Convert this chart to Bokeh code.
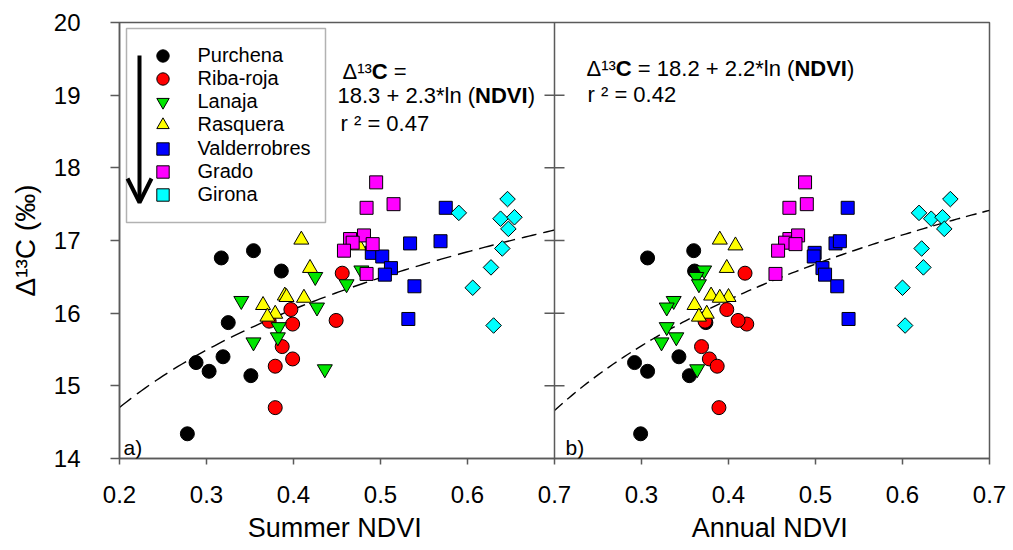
import numpy as np
from bokeh.plotting import figure
from bokeh.models import (Range1d, Span, Label, Legend, LegendItem, Arrow, OpenHead,
                          FixedTicker, CustomJSTickFormatter, BoxAnnotation)
from bokeh.embed import file_html
from bokeh.resources import INLINE

# ---------------- data ----------------
sites = ["Purchena", "Riba-roja", "Lanaja", "Rasquera", "Valderrobres", "Grado", "Girona"]

purchena_d13c = [16.76, 16.86, 16.58, 15.87, 15.40, 15.32, 15.20, 15.14, 14.34]
purchena_summer = [0.317, 0.354, 0.386, 0.325, 0.319, 0.288, 0.303, 0.351, 0.278]
purchena_annual = [0.307, 0.360, 0.361, 0.374, 0.343, 0.292, 0.307, 0.355, 0.299]

ribaroja_d13c = [16.55, 16.05, 15.85, 15.90, 15.89, 15.54, 15.37, 15.27, 14.70]
ribaroja_summer = [0.456, 0.397, 0.399, 0.449, 0.372, 0.387, 0.399, 0.379, 0.379]
ribaroja_annual = [0.419, 0.398, 0.421, 0.411, 0.373, 0.369, 0.378, 0.387, 0.389]

lanaja_d13c = [16.59, 16.50, 16.40, 16.17, 16.08, 15.81, 15.67, 15.60, 15.23]
lanaja_summer = [0.478, 0.425, 0.461, 0.340, 0.427, 0.383, 0.382, 0.354, 0.436]
lanaja_annual = [0.372, 0.363, 0.366, 0.337, 0.329, 0.329, 0.340, 0.323, 0.364]

rasquera_d13c = [17.01, 16.93, 16.62, 16.24, 16.22, 16.21, 16.11, 15.99, 15.95]
rasquera_summer = [0.409, 0.475, 0.419, 0.390, 0.392, 0.412, 0.365, 0.379, 0.370]
rasquera_annual = [0.390, 0.408, 0.398, 0.380, 0.400, 0.390, 0.361, 0.375, 0.366]

valderrobres_d13c = [17.45, 16.96, 16.99, 16.83, 16.78, 16.62, 16.53, 16.37, 15.92]
valderrobres_summer = [0.575, 0.534, 0.569, 0.490, 0.502, 0.512, 0.505, 0.539, 0.532]
valderrobres_annual = [0.537, 0.523, 0.528, 0.499, 0.498, 0.508, 0.511, 0.525, 0.538]

grado_d13c = [17.80, 17.45, 17.50, 17.02, 17.07, 16.97, 16.95, 16.86, 16.54]
grado_summer = [0.495, 0.484, 0.515, 0.465, 0.481, 0.468, 0.491, 0.458, 0.484]
grado_annual = [0.488, 0.470, 0.490, 0.470, 0.480, 0.465, 0.477, 0.457, 0.454]

girona_d13c = [17.57, 17.38, 17.30, 17.32, 17.16, 16.89, 16.63, 16.35, 15.83]
girona_summer = [0.646, 0.590, 0.638, 0.654, 0.647, 0.640, 0.627, 0.606, 0.630]
girona_annual = [0.655, 0.619, 0.633, 0.646, 0.648, 0.622, 0.624, 0.600, 0.603]

# fitted curves as drawn: d13C = a + b*ln(NDVI)
fit_summer = (17.84, 1.95)
fit_annual = (18.2, 2.2)
ndvi_limits = [0.2, 0.7]

x_ticks = [0.2, 0.3, 0.4, 0.5, 0.6, 0.7]
y_ticks = [14, 15, 16, 17, 18, 19, 20]
x_titles = ["Summer NDVI", "Annual NDVI"]

# ---------------- layout / styles ----------------
FONT = "Liberation Sans"
GRAY = "#5a5a5a"
NB = "\u00a0"
FL, FT, FW, FH = 119, 22, 870, 436          # frame left/top/width/height in px

styles = [
    dict(marker="circle", size=14, fill_color="black", angle=0.0),
    dict(marker="circle", size=14, fill_color="#ff0000", angle=0.0),
    dict(marker="inverted_triangle", size=15, fill_color="#00e600", angle=0.0),
    dict(marker="triangle", size=15, fill_color="#ffff00", angle=0.0),
    dict(marker="square", size=13, fill_color="#0000ff", angle=0.0),
    dict(marker="square", size=13, fill_color="#ff00ff", angle=0.0),
    dict(marker="square", size=11, fill_color="#00ffff", angle=np.pi / 4),
]
series = [
    (purchena_d13c, purchena_summer, purchena_annual),
    (ribaroja_d13c, ribaroja_summer, ribaroja_annual),
    (lanaja_d13c, lanaja_summer, lanaja_annual),
    (rasquera_d13c, rasquera_summer, rasquera_annual),
    (valderrobres_d13c, valderrobres_summer, valderrobres_annual),
    (grado_d13c, grado_summer, grado_annual),
    (girona_d13c, girona_summer, girona_annual),
]

span = ndvi_limits[1] - ndvi_limits[0]
x0, x1 = ndvi_limits[0], ndvi_limits[1] + span
y0, y1 = y_ticks[0], y_ticks[-1]


def px2x(px):
    return x0 + (px - FL) * (x1 - x0) / FW


def px2y(py):
    return y1 - (py - FT) * (y1 - y0) / FH


p = figure(width=FL + FW + 20, height=FT + FH + 90,
           x_range=Range1d(x0, x1), y_range=Range1d(y0, y1),
           output_backend="svg", toolbar_location=None,
           min_border_left=FL, min_border_right=20, min_border_top=FT, min_border_bottom=90)
p.extra_x_ranges = {"annual": Range1d(ndvi_limits[0] - span, ndvi_limits[1])}
p.xgrid.visible = False
p.ygrid.visible = False
p.outline_line_color = GRAY
p.outline_line_width = 1.5
p.background_fill_color = "white"
p.border_fill_color = "white"

# axes
p.xaxis.ticker = FixedTicker(ticks=x_ticks + [t + span for t in x_ticks[1:]])
p.xaxis.formatter = CustomJSTickFormatter(code="return (tick > 0.75 ? tick - 0.5 : tick).toFixed(1);")
p.yaxis.ticker = FixedTicker(ticks=y_ticks)
for ax in (p.xaxis[0], p.yaxis[0]):
    ax.axis_line_color = GRAY
    ax.axis_line_width = 1.5
    ax.major_tick_line_color = GRAY
    ax.major_tick_line_width = 1.5
    ax.major_tick_in = 0
    ax.minor_tick_line_color = None
    ax.major_label_text_font = FONT
    ax.major_label_text_font_size = "24px"
    ax.major_label_text_color = "black"
    ax.axis_label_text_font = FONT
    ax.axis_label_text_font_style = "normal"
    ax.axis_label_text_color = "black"
p.xaxis.major_tick_out = 6
p.xaxis.major_label_standoff = 21
p.xaxis.axis_label = x_titles[0] + "\u2003" * 10 + x_titles[1] + "\u2002"
p.xaxis.axis_label_text_font_size = "27px"
p.xaxis.axis_label_standoff = 7
p.yaxis.major_tick_out = 9
p.yaxis.major_label_standoff = 30
p.yaxis.axis_label = "Δ¹³C (‰)"
p.yaxis.axis_label_text_font_size = "28px"
p.yaxis.axis_label_standoff = 10

# panel divider and its ticks
p.add_layout(Span(location=ndvi_limits[1], dimension="height", line_color=GRAY, line_width=1.5))
p.scatter(x=[ndvi_limits[1]] * (len(y_ticks) - 2), y=y_ticks[1:-1], marker="dash",
          size=20, line_color=GRAY, line_width=1.5)

# fitted curves
xs = np.linspace(ndvi_limits[0], ndvi_limits[1], 120)
p.line(xs, fit_summer[0] + fit_summer[1] * np.log(xs), line_color="black",
       line_width=1.4, line_dash="15 7")
p.line(xs, fit_annual[0] + fit_annual[1] * np.log(xs), line_color="black",
       line_width=1.4, line_dash="11 6", x_range_name="annual")

# points
renderers = []
for name, st, (yv, xs_sum, xs_ann) in zip(sites, styles, series):
    r = p.scatter(x=xs_sum, y=yv, marker=st["marker"], size=st["size"], angle=st["angle"],
                  fill_color=st["fill_color"], line_color="black", line_width=1)
    p.scatter(x=xs_ann, y=yv, marker=st["marker"], size=st["size"], angle=st["angle"],
              fill_color=st["fill_color"], line_color="black", line_width=1,
              x_range_name="annual")
    renderers.append(r)

# legend box
p.add_layout(BoxAnnotation(left=px2x(126), right=px2x(325), top=px2y(28), bottom=px2y(222),
                           fill_color="white", fill_alpha=1.0,
                           line_color="black", line_width=1.5))
# one legend per row so that row pitch and marker size match
row0, pitch, gh = 55, 23.33, 31
for i, (name, r) in enumerate(zip(sites, renderers)):
    vy = (FT + FH) - (row0 + pitch * i) - gh / 2
    p.add_layout(Legend(items=[LegendItem(label=name, renderers=[r])],
                        location=(162 - gh / 2 - FL, vy), padding=0, margin=0, spacing=0,
                        glyph_width=gh, glyph_height=gh, label_standoff=20,
                        label_text_font=FONT, label_text_font_size="20px",
                        label_text_color="black", label_height=gh,
                        border_line_color=None, background_fill_alpha=0.0))

p.add_layout(Arrow(x_start=px2x(139), y_start=px2y(55), x_end=px2x(139), y_end=px2y(202),
                   line_color="black", line_width=4,
                   end=OpenHead(size=24, line_width=4, line_color="black")))

# text annotations (screen units relative to frame lower-left)
ADV = {"Δ": .668, "¹": .333, "³": .333, "²": .333, "1": .556, "8": .556, ".": .278, "3": .556,
       "2": .556, "0": .556, "4": .556, "7": .556, " ": .278, NB: .278, "+": .584, "*": .389,
       "l": .222, "n": .556, "(": .333, ")": .333, "=": .584, "r": .333}
ADV_B = {"C": .722, "N": .722, "D": .722, "V": .667, "I": .278}


def lab(text, x, y, size=22, bold=False, align="left"):
    p.add_layout(Label(x=x, y=y, x_units="screen", y_units="screen", text=text,
                       text_font=FONT, text_font_size=f"{size}px",
                       text_font_style="bold" if bold else "normal",
                       text_align=align, text_baseline="alphabetic", text_color="black"))


def rich(parts, x, y, size=22):
    for text, bold in parts:
        lab(text, x, y, size, bold)
        table = ADV_B if bold else ADV
        x += sum(table.get(c, .556) for c in text) * size


# left panel equation
rich([("Δ¹³", False), ("C", True), (NB + "=", False)], 223, 387)
rich([("18.3 + 2.3*ln (", False), ("NDVI", True), (")", False)], 218, 363)
lab("r ² = 0.47", 221, 335)
# right panel equation
rich([("Δ¹³", False), ("C", True), (NB + "= 18.2 + 2.2*ln (", False), ("NDVI", True), (")", False)],
     467, 390)
lab("r ² = 0.42", 468, 364)
# panel letters
lab("a)", 4, 11, size=21)
lab("b)", 446, 11, size=21)

open("out.html", "w").write(file_html(p, INLINE))
